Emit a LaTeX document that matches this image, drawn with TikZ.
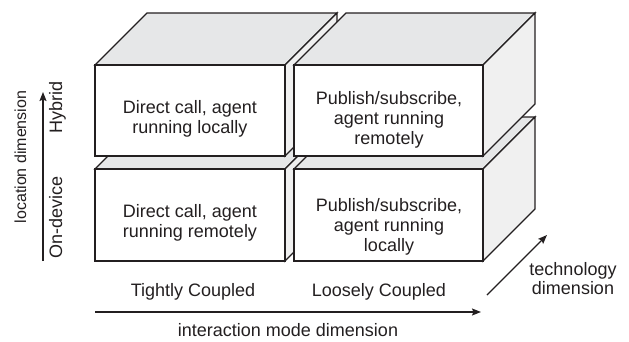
\documentclass[tikz,border=0pt]{standalone}
\usepackage{fontspec}
\setmainfont{Liberation Sans}
\usetikzlibrary{arrows.meta}
\definecolor{ink}{HTML}{231F20}
\definecolor{topgray}{HTML}{E6E7E8}
\definecolor{sidegray}{HTML}{F0F0F0}
\tikzset{
  edge/.style={draw=ink, line width=1.3bp, line join=miter},
  topf/.style={edge, fill=topgray},
  sidef/.style={edge, fill=sidegray},
  frontf/.style={edge, fill=white},
  txt/.style={font=\fontsize{18bp}{20bp}\selectfont, text=ink, inner sep=0pt, anchor=base},
  axis/.style={draw=ink, line width=1.2bp, -{Stealth[length=9bp,width=7bp,inset=1.5bp]}}
}
\newcommand\mybox[4]{%
  \filldraw[topf] (#1,#2) -- (#1+52,#2-52) -- (#3+52,#2-52) -- (#3,#2) -- cycle;
  \filldraw[sidef] (#3,#2) -- (#3+52,#2-52) -- (#3+52,#4-52) -- (#3,#4) -- cycle;
  \filldraw[frontf] (#1,#2) rectangle (#3,#4);
}
\begin{document}
\begin{tikzpicture}[x=1bp,y=-1bp]
\useasboundingbox (0,0) rectangle (629,341);
% boxes (back to front)
\mybox{95}{169}{285}{261}
\mybox{294}{169}{483}{261}
\mybox{95}{65}{285}{156}
\mybox{294}{65}{483}{156}
% box texts
\node[txt] (tl1) at (190,113) {Direct call, agent};
\node[txt] (tl2) at (190,133) {running locally};
\node[txt] (tr1) at (389,104) {Publish/subscribe,};
\node[txt] (tr2) at (389,124) {agent running};
\node[txt] (tr3) at (389,144) {remotely};
\node[txt] (bl1) at (190,217) {Direct call, agent};
\node[txt] (bl2) at (190,237) {running remotely};
\node[txt] (br1) at (389,211.7) {Publish/subscribe,};
\node[txt] (br2) at (389,231.7) {agent running};
\node[txt] (br3) at (389,251.7) {locally};
% location axis
\coordinate (vs) at (43,261);
\coordinate (ve) at (43,92);
\draw[axis] (vs) -- (ve);
\node[txt, rotate=90, font=\fontsize{16bp}{18bp}\selectfont] (loc) at (26,157) {location dimension};
\node[txt, rotate=90] (hyb) at (62,107) {Hybrid};
\node[txt, rotate=90] (ond) at (62,217) {On-device};
% interaction axis
\coordinate (hs) at (95,312);
\coordinate (he) at (481,312);
\draw[axis] (hs) -- (he);
\node[txt] (tc) at (193,296.7) {Tightly Coupled};
\node[txt] (lc) at (379,296.7) {Loosely Coupled};
\node[txt] (imd) at (288,336.7) {interaction mode dimension};
% technology axis
\coordinate (ds) at (487,295);
\coordinate (de) at (547,235);
\draw[axis] (ds) -- (de);
\node[txt] (tech1) at (573,275) {technology};
\node[txt] (tech2) at (573,294) {dimension};
\end{tikzpicture}
\end{document}
